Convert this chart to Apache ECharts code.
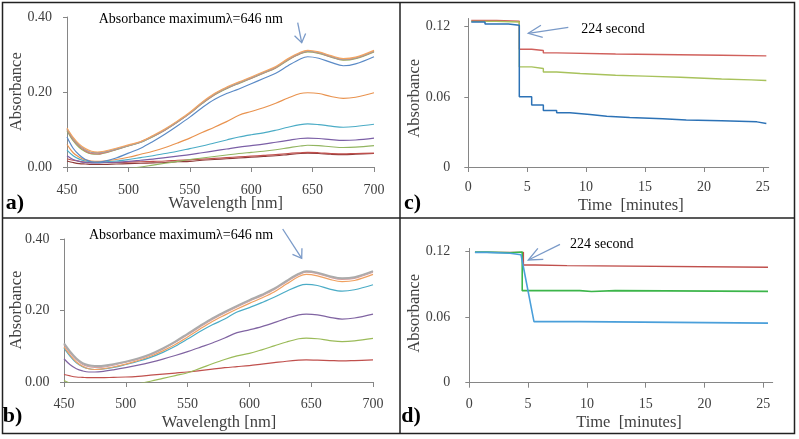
<!DOCTYPE html>
<html><head><meta charset="utf-8">
<script src="https://cdn.jsdelivr.net/npm/echarts@6/dist/echarts.min.js"></script>
<style>html,body{margin:0;padding:0;background:#fff}#c{width:799px;height:439px}</style>
</head><body><div id="c"></div>
<script>
// ---------- DATA ----------
const wavelengths = [450,455,460,465,470,475,480,490,500,510,520,530,540,550,560,570,580,590,600,610,620,630,640,646,655,665,675,685,700];
const wlTicks = [450,500,550,600,650,700];
const absTicksAB = [0,0.2,0.4];

// panel a
const aTopOrange = [.104,.079,.061,.049,.042,.040,.042,.050,.059,.068,.084,.102,.123,.146,.173,.196,.213,.227,.240,.254,.268,.289,.306,.311,.307,.297,.289,.293,.311];
const aTopGray   = [.102,.076,.058,.046,.039,.038,.040,.048,.057,.066,.082,.100,.121,.144,.171,.194,.211,.225,.238,.252,.266,.287,.304,.309,.305,.295,.287,.291,.309];
const aTopRed    = [.100,.073,.055,.043,.036,.035,.038,.047,.057,.067,.082,.099,.120,.143,.170,.193,.210,.224,.237,.251,.265,.286,.303,.308,.304,.294,.286,.290,.308];
const aTopGreen  = [.097,.070,.052,.041,.035,.034,.037,.046,.056,.066,.081,.099,.120,.143,.169,.192,.209,.223,.236,.250,.264,.285,.302,.307,.303,.293,.285,.289,.307];
const aBlue      = [.080,.050,.032,.020,.014,.013,.015,.024,.037,.050,.068,.088,.110,.133,.158,.180,.196,.208,.222,.236,.250,.270,.288,.294,.290,.279,.270,.275,.294];
const aOrange    = [.060,.038,.026,.019,.016,.015,.016,.020,.026,.034,.042,.052,.064,.077,.092,.106,.121,.138,.148,.158,.170,.184,.196,.198,.196,.188,.183,.186,.198];
const aTeal      = [.045,.030,.021,.016,.014,.013,.014,.016,.020,.025,.030,.036,.042,.049,.056,.064,.072,.080,.086,.091,.098,.106,.113,.115,.113,.109,.106,.108,.114];
const aPurple    = [.030,.020,.015,.012,.011,.011,.012,.013,.015,.018,.021,.025,.029,.033,.038,.043,.048,.053,.057,.061,.066,.071,.076,.077,.076,.073,.071,.072,.077];
const aGreen     = [-.030,-.026,-.022,-.019,-.016,-.013,-.011,-.007,-.004,.000,.005,.010,.015,.020,.024,.028,.032,.036,.039,.042,.046,.051,.056,.058,.057,.054,.052,.053,.057];
const aRed       = [.022,.018,.015,.013,.012,.012,.012,.012,.013,.014,.015,.016,.018,.019,.021,.023,.025,.027,.029,.031,.033,.036,.038,.039,.038,.036,.035,.036,.037];
const aDarkRed   = [.016,.012,.009,.008,.007,.007,.007,.008,.009,.010,.011,.012,.014,.015,.018,.020,.022,.024,.026,.028,.030,.033,.036,.037,.036,.034,.033,.034,.036];

// panel b
const bTopGray   = [.108,.085,.066,.053,.047,.045,.045,.050,.057,.066,.078,.094,.113,.135,.157,.178,.196,.213,.229,.244,.261,.283,.303,.310,.306,.296,.290,.293,.310];
const bTopPink   = [.104,.081,.062,.049,.043,.041,.041,.047,.055,.064,.076,.092,.111,.132,.154,.175,.193,.210,.226,.241,.258,.280,.300,.307,.303,.293,.287,.290,.307];
const bOrange    = [.098,.075,.056,.044,.037,.035,.036,.042,.050,.060,.072,.087,.105,.126,.148,.169,.187,.204,.220,.235,.252,.274,.295,.301,.297,.287,.281,.284,.301];
const bTeal      = [.095,.072,.054,.043,.037,.035,.036,.041,.049,.058,.069,.083,.100,.120,.141,.160,.176,.196,.208,.222,.237,.254,.269,.273,.270,.260,.254,.258,.272];
const bPurple    = [.065,.048,.037,.031,.028,.028,.029,.034,.040,.047,.055,.064,.074,.085,.097,.109,.123,.138,.146,.155,.166,.178,.188,.190,.188,.181,.176,.179,.190];
const bGreen     = [.004,-.004,-.012,-.018,-.022,-.024,-.024,-.020,-.013,-.005,.002,.010,.018,.026,.038,.051,.063,.073,.080,.090,.101,.112,.121,.123,.121,.116,.113,.115,.122];
const bRed       = [.021,.017,.014,.013,.012,.012,.012,.013,.014,.016,.019,.022,.025,.028,.032,.036,.040,.043,.046,.050,.054,.058,.061,.062,.061,.060,.059,.060,.062];

// panel c  [time (min), absorbance]  (value held until next time)
const timeTicks = [0,5,10,15,20,25];
const absTicksCD = [0,0.06,0.12];
const cRed   = [[0.25,.1253],[2.4,.1246],[4.33,.1007],[5.38,.0996],[6.37,.0976],[7.5,.0967],[12.5,.0956],[21.5,.0950],[25.3,.0950]];
const cGreen = [[0.25,.1245],[2.4,.1240],[4.33,.0856],[5.38,.0842],[6.37,.0813],[7.5,.0800],[9.5,.0785],[12.5,.0777],[15,.0767],[18,.0752],[21.5,.0745],[24,.0740],[25.3,.0739]];
const cBlue  = [[0.25,.1240],[1.42,.1222],[3.4,.1212],[4.33,.0600],[5.38,.0530],[6.37,.0484],[7.5,.0463],[8.63,.0449],[10.33,.0433],[11.75,.0424],[13.7,.0413],[16.5,.0403],[18.5,.0395],[21.5,.0386],[24.5,.0372],[25.3,.0370]];

// panel d
const dRed   = [[0.48,.1194],[4.6,.1078],[5.6,.1072],[8.3,.1057],[25.4,.1057]];
const dGreen = [[0.48,.1196],[1.48,.1190],[3.46,.1197],[4.5,.0843],[9.4,.0835],[10.4,.0843],[12.4,.0836],[25.4,.0834]];
const dBlue  = [[0.48,.1194],[1.48,.1194],[1.48,.1185],[3.46,.1185],[3.46,.1178],[4.4,.1172],[5.5,.0559],[9.4,.0559],[9.4,.0550],[25.4,.0546]];

// ---------- CHART ----------
const FONT = 'Liberation Serif';
const AX = '#868686';
const LBL = '#404040';

const chart = echarts.init(document.getElementById('c'), null, {renderer:'canvas'});

function xAx(gi, min, max, ticks, margin){
  return {gridIndex:gi, type:'value', min, max,
    axisLine:{show:true, onZero:false, lineStyle:{color:AX, width:1}},
    axisTick:{show:true, length:5, lineStyle:{color:AX}, customValues:ticks},
    axisLabel:{show:true, margin, color:LBL, fontFamily:FONT, fontSize:14, customValues:ticks, formatter:v=>String(v)},
    splitLine:{show:false}};
}
function yAx(gi, min, max, ticks, margin, fmt){
  return {gridIndex:gi, type:'value', min, max,
    axisLine:{show:true, onZero:false, lineStyle:{color:AX, width:1}},
    axisTick:{show:true, length:4, lineStyle:{color:AX}, customValues:ticks},
    axisLabel:{show:true, margin, color:LBL, fontFamily:FONT, fontSize:14, customValues:ticks, formatter:fmt},
    splitLine:{show:false}};
}
const zip = arr => wavelengths.map((w,i)=>[w, arr[i]]);
function ln(gi, data, color, width, step){
  return {type:'line', xAxisIndex:gi, yAxisIndex:gi, data, symbol:'none', smooth: step===undefined ? 0.35 : false,
    step: step || false, lineStyle:{color, width}, itemStyle:{color}, silent:true, animation:false, clip:true, z:2};
}

const series = [
  ln(0, zip(aDarkRed), '#8E3A38', 1.2),
  ln(0, zip(aRed), '#C0504D', 1.2),
  ln(0, zip(aGreen), '#92B560', 1.2),
  ln(0, zip(aPurple), '#7B5FA6', 1.2),
  ln(0, zip(aTeal), '#4BACC6', 1.2),
  ln(0, zip(aOrange), '#E9934F', 1.2),
  ln(0, zip(aBlue), '#5A8AC6', 1.2),
  ln(0, zip(aTopGreen), '#8FB35C', 1.2),
  ln(0, zip(aTopRed), '#D47A78', 1.2),
  ln(0, zip(aTopGray), '#A0A0A0', 1.3),
  ln(0, zip(aTopOrange), '#F4A460', 1.2),

  ln(1, zip(bRed), '#C0504D', 1.2),
  ln(1, zip(bGreen), '#9BBB59', 1.2),
  ln(1, zip(bPurple), '#8064A2', 1.2),
  ln(1, zip(bTeal), '#4BACC6', 1.2),
  ln(1, zip(bOrange), '#F0A060', 1.2),
  ln(1, zip(bTopPink), '#D9A0A0', 1.2),
  ln(1, zip(bTopGray), '#ABABAB', 2),

  ln(2, cRed, '#D0605C', 1.4, 'end'),
  ln(2, cGreen, '#A8C25C', 1.4, 'end'),
  ln(2, cBlue, '#2C72B6', 1.5, 'end'),

  ln(3, dRed, '#C0504D', 1.4, 'end'),
  ln(3, dGreen, '#3CB54A', 1.6, 'end'),
  ln(3, dBlue, '#4A9FDA', 1.6, null),
];
series[series.length-1].smooth = false;
series[series.length-1].step = false;

const fmtAB = v => v.toFixed(2);
const fmtCD = v => v === 0 ? '0' : v.toFixed(2);

function txt(x, y, text, size, opts){
  opts = opts || {};
  return {type:'text', x, y, rotation: opts.rot || 0, silent:true, z:10,
    style:{text, fill: opts.fill || LBL, font: (opts.bold?'bold ':'') + size + 'px "' + FONT + '"',
      align:'center', verticalAlign:'middle'}};
}
function arrow(x1,y1,x2,y2,len,ang){
  const a = Math.atan2(y1-y2, x1-x2);
  const h1 = [x2 + len*Math.cos(a+ang), y2 + len*Math.sin(a+ang)];
  const h2 = [x2 + len*Math.cos(a-ang), y2 + len*Math.sin(a-ang)];
  const st = {stroke:'#7A9AC8', lineWidth:1.3, fill:null};
  return [
    {type:'polyline', silent:true, z:10, shape:{points:[[x1,y1],[x2,y2]]}, style:st},
    {type:'polyline', silent:true, z:10, shape:{points:[h1,[x2,y2],h2]}, style:st}
  ];
}
const R = Math.PI/2;
const graphic = [
  {type:'rect', silent:true, z:0, shape:{x:2.5, y:2.5, width:792, height:431}, style:{stroke:'#222', lineWidth:1.5, fill:null}},
  {type:'line', silent:true, z:0, shape:{x1:400, y1:2.5, x2:400, y2:433.5}, style:{stroke:'#222', lineWidth:1.5}},
  {type:'line', silent:true, z:0, shape:{x1:2.5, y1:218, x2:794.5, y2:218}, style:{stroke:'#222', lineWidth:1.5}},

  txt(16.7, 91.7, 'Absorbance', 16.5, {rot:R}),
  txt(225.8, 204, 'Wavelength [nm]', 16.5),
  txt(15, 203, 'a)', 22, {bold:true, fill:'#000'}),
  txt(190.8, 19.5, 'Absorbance maximumλ=646 nm', 14, {fill:'#000'}),

  txt(16.7, 310, 'Absorbance', 16.5, {rot:R}),
  txt(219, 423, 'Wavelength [nm]', 16.5),
  txt(12.5, 416, 'b)', 22, {bold:true, fill:'#000'}),
  txt(181, 235, 'Absorbance maximumλ=646 nm', 14, {fill:'#000'}),

  txt(415, 98.3, 'Absorbance', 16.5, {rot:R}),
  txt(630.8, 206, 'Time  [minutes]', 16.5),
  txt(412.5, 203, 'c)', 22, {bold:true, fill:'#000'}),
  txt(613, 29, '224 second', 14, {fill:'#000'}),

  txt(415, 313.3, 'Absorbance', 16.5, {rot:R}),
  txt(629, 422.5, 'Time  [minutes]', 16.5),
  txt(411, 416, 'd)', 22, {bold:true, fill:'#000'}),
  txt(601.7, 244.5, '224 second', 14, {fill:'#000'}),

  ...arrow(297.7,22.7,301.7,42.7,10,0.6),
  ...arrow(282.7,229,301.7,258.3,10,0.6),
  ...arrow(568.3,27.3,528.3,33.3,15,0.42),
  ...arrow(560,244.3,528.3,260,15,0.42),
];

chart.setOption({
  animation:false,
  backgroundColor:'#fff',
  grid:[
    {left:67, top:17, width:307, height:150, outerBoundsMode:'none', containLabel:false},
    {left:64, top:239, width:309, height:143, outerBoundsMode:'none', containLabel:false},
    {left:468.3, top:18.5, width:300.4, height:148.5, outerBoundsMode:'none', containLabel:false},
    {left:469.3, top:248.4, width:303.4, height:134.3, outerBoundsMode:'none', containLabel:false}
  ],
  xAxis:[
    xAx(0, 450, 700, wlTicks, 16),
    xAx(1, 450, 700, wlTicks, 15.5),
    xAx(2, 0, 25.5, timeTicks, 13),
    xAx(3, 0, 25.8, timeTicks, 15)
  ],
  yAxis:[
    yAx(0, 0, 0.4, absTicksAB, 15, fmtAB),
    yAx(1, 0, 0.4, absTicksAB, 14.5, fmtAB),
    yAx(2, 0, 0.127, absTicksCD, 18, fmtCD),
    yAx(3, 0, 0.123, absTicksCD, 19, fmtCD)
  ],
  series,
  graphic
});
</script></body></html>
